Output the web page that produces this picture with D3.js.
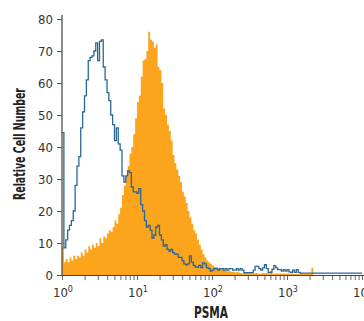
<!DOCTYPE html>
<html>
<head>
<meta charset="utf-8">
<script src="https://cdn.jsdelivr.net/npm/d3@7"></script>
<style>
  html, body { margin: 0; padding: 0; background: #fff; }
  svg text { font-family: "Liberation Sans Narrow", "DejaVu Sans Condensed", "Liberation Sans", sans-serif; }
</style>
</head>
<body>
<svg id="chart" width="364" height="321"></svg>
<script>
// ---- data (channel counts; channels are 0.025 decade wide starting at 10^0) ----
const channelDecadeWidth = 0.025;
const isotypeCounts = [
  44.5, 8.5, 11, 14, 15.5, 17, 20, 28, 34, 37,
  46, 51, 56, 61, 67, 68, 68.5, 70, 72.5, 67,
  73, 73.5, 65, 61, 57, 54.5, 50, 47, 42, 46,
  41, 39, 31, 29, 31, 32.5, 32, 27.5, 26, 26,
  25.5, 27, 22, 20, 17, 15, 15.5, 14, 11.5, 12.5,
  15, 15.5, 12.5, 11, 9, 9.5, 8, 7.5, 8, 7,
  6.5, 6.5, 5.5, 5.5, 4.5, 3.5, 3.2, 3.5, 6, 4,
  3, 2.5, 2.5, 3, 2.3, 3.8, 3.5, 2.3, 2, 1.2,
  1.5, 2, 2, 1.5, 2, 2, 1.5, 2, 1.5, 2,
  2, 1.5, 1.5, 2, 1.5, 2, 1.5, 0.7, 0.7, 0.7,
  0.7, 0.7, 1.5, 2.7, 2.7, 2, 1.5, 2.2, 3.2, 2,
  0.8, 0.8, 1.8, 2.9, 2.2, 1.7, 1.7, 1.2, 1.7, 1.2,
  1.7, 1, 0.8, 1.5, 0.8, 1.7, 0.8, 0.6, 0.6, 0.6,
  0.6, 0.6, 0.6, 0.6, 0.6, 0.6, 0.6, 0.6, 0.6, 0.6,
  0.6, 0.6, 0.6, 0.6, 0.6, 0.6, 0.6, 0.6, 0.6, 0.6,
  0.6, 0.6, 0.6, 0.6, 0.6, 0.6, 0.6, 0.6, 0.6, 0.6
];
const psmaCounts = [
  8.5, 4, 5, 4, 5.5, 4.5, 6, 5, 6, 5.5,
  7, 6, 8, 7, 9, 8, 9.5, 8.5, 10, 9,
  11.5, 10, 12, 11.5, 13, 14, 13.5, 15, 17, 16,
  19, 21, 25, 28, 31, 34, 38, 40, 44, 49,
  54, 56, 62, 67, 67.5, 70, 76, 73.5, 73, 71,
  72, 65, 64, 60, 52, 50, 47, 45, 42, 37.5,
  35, 33, 31, 29, 26, 24.5, 22.5, 20, 18, 16,
  14, 13, 11, 9.5, 8, 6.5, 5.5, 4.5, 4, 3.5,
  3, 2.5, 2.5, 2, 2, 1.8, 1.5, 1.5, 1.2, 1.2,
  1, 1, 0.8, 1, 0.8, 0.6, 0.5, 0.6, 0.5, 0.4,
  0.5, 0.4, 0.5, 0.6, 0.5, 0.4, 0.5, 0.6, 0.5, 0.6,
  0.5, 1.4, 0.5, 0.4, 0.5, 0.4, 0.5, 0.4, 0.5, 0.4,
  0.5, 0.4, 0.5, 0.4, 0.3, 0.4, 0.3, 0.4, 0.3, 0.4,
  0.3, 0.4, 0.3, 2.3
];
const yTickValues = [0, 10, 20, 30, 40, 50, 60, 70, 80];
const xMajorExponents = [0, 1, 2, 3, 4];
const xAxisTitle = "PSMA";
const yAxisTitle = "Relative Cell Number";

// ---- layout ----
const svg = d3.select("#chart");
const plotLeft = 62, plotRight = 362, plotTop = 19, plotBottom = 275;
const x = d3.scaleLog().domain([1, 10000]).range([plotLeft, plotRight]);
const y = d3.scaleLinear().domain([0, 80]).range([plotBottom, plotTop]);

function toPoints(counts) {
  const pts = counts.map((c, i) => ({ v: Math.pow(10, i * channelDecadeWidth), c }));
  pts.push({ v: Math.pow(10, counts.length * channelDecadeWidth), c: counts[counts.length - 1] });
  return pts;
}

// orange filled histogram
const area = d3.area()
  .x(d => x(d.v))
  .y0(y(0))
  .y1(d => y(d.c))
  .curve(d3.curveStepAfter);
svg.append("path")
  .datum(toPoints(psmaCounts))
  .attr("d", area)
  .attr("fill", "#FBA41C");

// blue outline histogram
const line = d3.line()
  .x(d => x(d.v))
  .y(d => y(d.c))
  .curve(d3.curveStepAfter);
svg.append("path")
  .datum(toPoints(isotypeCounts))
  .attr("d", line)
  .attr("fill", "none")
  .attr("stroke", "#2a6797")
  .attr("stroke-width", 1.3)
  .attr("stroke-linejoin", "miter");

// y axis
const yAxis = d3.axisLeft(y).tickValues(yTickValues).tickSize(5).tickSizeOuter(0).tickPadding(4);
const gy = svg.append("g").attr("transform", `translate(${plotLeft},0)`).call(yAxis);
gy.select(".domain").remove();
gy.selectAll(".tick line").attr("stroke", "#555");
gy.selectAll(".tick text").attr("fill", "#333").style("font-size", "13px")
  .style("font-family", '"Liberation Sans Narrow", "DejaVu Sans Condensed", sans-serif');
svg.append("line").attr("x1", plotLeft).attr("x2", plotLeft).attr("y1", 15).attr("y2", plotBottom + 0.5)
  .attr("stroke", "#444").attr("stroke-width", 1.2);

// x axis with minor ticks
const minorVals = [];
xMajorExponents.forEach(e => { for (let m = 1; m <= 9; m++) { const v = m * Math.pow(10, e); if (v <= 10000) minorVals.push(v); } });
const xAxis = d3.axisBottom(x).tickValues(minorVals).tickSize(5).tickSizeOuter(0).tickFormat("");
const gx = svg.append("g").attr("transform", `translate(0,${plotBottom})`).call(xAxis);
gx.select(".domain").remove();
gx.selectAll(".tick line").attr("stroke", "#666");
svg.append("line").attr("x1", plotLeft).attr("x2", 364).attr("y1", plotBottom + 0.5).attr("y2", plotBottom + 0.5)
  .attr("stroke", "#444").attr("stroke-width", 1.2);

// major labels 10^n
const lab = svg.append("g");
xMajorExponents.forEach(e => {
  const t = lab.append("text")
    .attr("x", x(Math.pow(10, e)) + 1)
    .attr("y", 297)
    .attr("text-anchor", "middle")
    .attr("fill", "#333")
    .style("font-size", "13px");
  t.append("tspan").text("10");
  t.append("tspan").attr("dy", -5).style("font-size", "9px").text(String(e));
});

// axis titles
svg.append("text")
  .attr("x", 211).attr("y", 318)
  .attr("text-anchor", "middle")
  .attr("fill", "#222")
  .attr("textLength", 34).attr("lengthAdjust", "spacingAndGlyphs")
  .style("font-size", "15px").style("font-weight", "bold")
  .text(xAxisTitle);
svg.append("text")
  .attr("transform", "translate(25,144) rotate(-90)")
  .attr("text-anchor", "middle")
  .attr("fill", "#222")
  .attr("textLength", 112).attr("lengthAdjust", "spacingAndGlyphs")
  .style("font-size", "16px").style("font-weight", "bold")
  .text(yAxisTitle);
</script>
</body>
</html>
